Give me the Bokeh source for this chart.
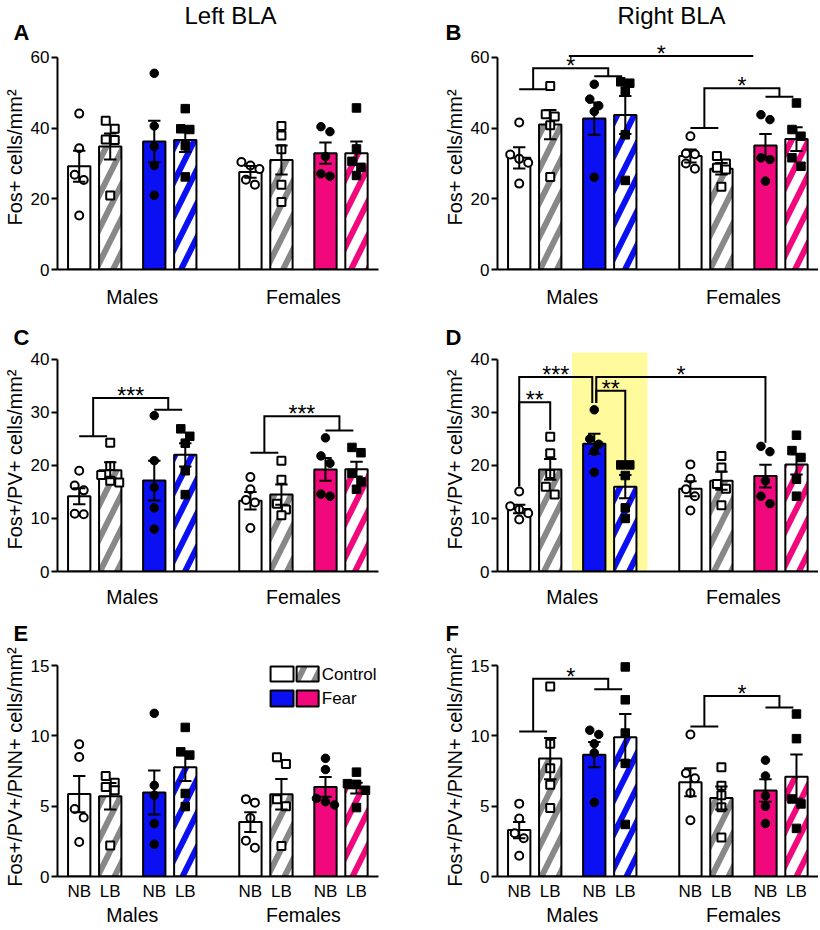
import numpy as np
from bokeh.plotting import figure
from bokeh.models import Range1d, FixedTicker, LinearAxis, Title
from bokeh.layouts import column, row
from bokeh.embed import file_html
from bokeh.resources import INLINE
from bokeh.core.properties import value

# ------------------------------------------------------------------ data
bar_labels = ["NB", "LB", "NB", "LB", "NB", "LB", "NB", "LB"]
sex_labels = ["Males", "Females"]
legend_labels = ["Control", "Fear"]
region_titles = ["Left BLA", "Right BLA"]
panel_letters = ["A", "B", "C", "D", "E", "F"]
y_labels = ["Fos+ cells/mm²", "Fos+/PV+ cells/mm²", "Fos+/PV+/PNN+ cells/mm²"]
y_ticks_fos = [0, 20, 40, 60]
y_ticks_pv = [0, 10, 20, 30, 40]
y_ticks_pnn = [0, 5, 10, 15]

# order of bars: Males NB-Control, LB-Control, NB-Fear, LB-Fear, Females (same)
a_mean = [29.2, 34.8, 36.2, 36.6, 27.6, 31.0, 32.9, 32.9]
a_sem = [4.4, 3.7, 5.85, 3.35, 1.65, 4.1, 3.0, 3.3]
a_points = [[44.1, 34.3, 26.8, 25.3, 15.3], [42.1, 39.8, 36.8, 36.6, 20.9],
            [55.5, 40.6, 34.8, 29.4, 21.0], [45.5, 39.8, 39.6, 35.0, 26.2],
            [30.4, 29.4, 28.4, 25.4, 24.0], [40.6, 37.9, 34.0, 24.0, 19.1],
            [40.4, 39.0, 32.0, 27.1, 26.4], [45.7, 34.1, 30.6, 28.9, 26.6]]

b_mean = [31.6, 41.0, 42.7, 43.7, 32.1, 28.5, 35.1, 36.9]
b_sem = [3.0, 4.15, 4.55, 5.4, 1.85, 1.65, 3.25, 3.35]
b_points = [[41.6, 32.5, 31.3, 30.2, 24.3], [51.9, 43.9, 43.3, 40.8, 26.2],
            [52.4, 48.2, 46.3, 44.7, 26.1], [53.1, 52.7, 50.5, 38.1, 25.2],
            [37.7, 32.8, 32.6, 30.0, 28.5], [32.1, 30.0, 28.8, 28.3, 23.4],
            [43.8, 42.4, 31.6, 31.1, 25.0], [47.1, 39.6, 37.7, 31.6, 29.2]]

c_mean = [14.2, 19.1, 17.15, 22.0, 13.35, 14.5, 19.25, 19.3]
c_sem = [1.5, 1.5, 3.75, 2.2, 1.65, 1.9, 2.15, 1.4]
c_points = [[19.0, 16.2, 15.3, 10.9, 10.8], [24.3, 19.9, 18.2, 17.1, 16.8],
            [29.4, 20.9, 15.9, 12.0, 8.0], [26.9, 25.5, 24.2, 19.0, 14.5],
            [17.8, 15.5, 13.5, 13.0, 8.2], [20.9, 17.3, 12.8, 11.7, 10.6],
            [25.2, 21.8, 20.4, 14.6, 14.2], [23.4, 22.4, 18.5, 16.9, 15.5]]

d_mean = [11.8, 19.25, 24.1, 16.0, 15.6, 17.1, 18.0, 20.2]
d_sem = [0.8, 1.95, 1.9, 2.2, 1.4, 1.7, 2.15, 1.9]
d_points = [[15.1, 12.3, 11.7, 11.0, 9.8], [25.4, 22.3, 18.4, 16.0, 14.5],
            [30.5, 25.0, 24.0, 22.7, 18.7], [20.1, 20.1, 18.1, 12.0, 10.0],
            [20.2, 17.5, 15.5, 14.2, 11.5], [21.8, 19.6, 16.5, 15.6, 12.5],
            [23.6, 22.6, 17.1, 14.2, 12.8], [25.7, 22.8, 21.5, 17.4, 14.2]]

e_mean = [5.86, 5.7, 5.97, 7.77, 3.87, 5.85, 6.37, 6.28]
e_sem = [1.29, 0.94, 1.57, 0.98, 0.7, 1.08, 0.7, 0.38]
e_points = [[9.4, 8.5, 4.8, 4.2, 2.45], [7.14, 6.67, 6.37, 6.13, 2.2],
            [11.6, 6.48, 5.78, 3.76, 2.29], [10.6, 8.86, 8.63, 5.9, 4.97],
            [5.5, 5.25, 4.15, 2.55, 2.05], [8.47, 8.0, 5.5, 5.0, 2.17],
            [8.4, 7.6, 5.55, 5.32, 5.09], [7.42, 6.6, 6.55, 6.13, 4.9]]

f_mean = [3.3, 8.38, 8.66, 9.9, 6.7, 5.58, 6.12, 7.1]
f_sem = [0.58, 1.47, 0.9, 1.65, 1.0, 0.82, 0.8, 1.57]
f_points = [[5.18, 4.12, 3.07, 2.72, 1.48], [13.5, 9.44, 7.69, 6.52, 4.87],
            [10.4, 10.1, 9.44, 8.79, 5.27], [14.9, 12.56, 10.2, 8.04, 3.7],
            [10.1, 7.34, 6.98, 5.93, 4.0], [7.76, 6.45, 5.77, 4.92, 2.77],
            [8.27, 7.15, 5.74, 4.99, 3.77], [11.55, 9.8, 5.51, 5.16, 3.42]]

# significance annotations
a_sig = []
b_sig = [("comb", (0, 1), (2, 3), 51.0, 56.9, 54.7, "*"),
         ("comb", (4, 5), (6, 7), 40.0, 51.3, 48.9, "*"),
         ("span", (2.3, 8.25), 60.4, "*")]
c_sig = [("comb", (0, 1), (2, 3), 25.5, 32.7, 30.5, "***"),
         ("comb", (4, 5), (6, 7), 22.4, 29.3, 26.6, "***")]
d_sig = [("pair", (0, 2), 36.7, (16.1, 31.8), (0, -2), "***"),
         ("pair", (0, 1), 31.9, (16.1, 26.7), (0, 0), "**"),
         ("pair", (2, 3), 34.1, (31.8, 20.8), (2, 0), "**"),
         ("pair", (2, 6), 36.7, (31.8, 24.3), (2, 0), "*")]
e_sig = []
f_sig = [("comb", (0, 1), (2, 3), 10.31, 14.06, 13.31, "*"),
         ("comb", (4, 5), (6, 7), 10.66, 12.84, 12.02, "*")]

# ------------------------------------------------------------------ style / layout
FONT = "Liberation Sans"
BLUE = "#0A10F2"
PINK = "#F0087C"
GRAY = "#888888"
YELLOW = "#FFFA9C"
XPOS = [0.7, 1.7, 3.12, 4.12, 6.22, 7.22, 8.64, 9.64]
X_END = 10.35
BAR_W = 0.72
CAP = 0.2
SUB_TRIM = 0.1
MALE_C = (XPOS[1] + XPOS[2]) / 2
FEMALE_C = (XPOS[5] + XPOS[6]) / 2
FIG_W = [410, 408]
BORDER_L = [57, 87]
BORDER_R = [32, 0]
DATA_H = [214, 214, 211]
EXTRA = [12, 12, 8]
TOP_B = [45, 37, 47]
BOT_B = [39, 37, 53]
SEX_STANDOFF = [16, 14]
LETTER_SO = [1, -5, 20]
LETTER_VA = ["bottom", "bottom", "top"]
LETTER_OFF = [-44, -52]
TITLE_OFF = [127, 120]
HATCH_SCALE = 34
HATCH_W = 6


def swarm(vals, px_y, diam):
    order = sorted(range(len(vals)), key=lambda i: -vals[i])
    clusters = []
    for i in order:
        if clusters and (vals[clusters[-1][0]] - vals[i]) * px_y < diam:
            clusters[-1].append(i)
        else:
            clusters.append([i])
    off = [0.0] * len(vals)
    for c in clusters:
        n = len(c)
        for r, i in enumerate(c):
            off[i] = (r - (n - 1) / 2) * diam
    return off


def style_axis(ax):
    ax.axis_line_width = 2
    ax.axis_line_color = "black"
    ax.major_tick_line_width = 2
    ax.major_tick_line_color = "black"
    ax.minor_tick_line_color = None
    ax.major_label_text_color = "black"
    ax.major_label_text_font = FONT
    ax.axis_label_text_color = "black"
    ax.axis_label_text_font = FONT
    ax.axis_label_text_font_style = "normal"


def make_panel(idx, col, rowi, mean, sem, pts, ytop, yticks, ylabel, sig,
               bottom_labels=False, title=None, legend=False, highlight=False):
    fw = FIG_W[col]
    dh = DATA_H[rowi]
    ex = EXTRA[rowi]
    fh = TOP_B[rowi] + dh + ex + BOT_B[rowi]
    frame_w = fw - BORDER_L[col] - BORDER_R[col]
    px_x = frame_w / X_END
    px_y = dh / ytop
    y_end = ytop + ex / px_y
    p = figure(width=fw, height=fh, x_range=Range1d(0, X_END), y_range=Range1d(0, y_end),
               min_border_left=BORDER_L[col], min_border_right=BORDER_R[col],
               min_border_top=TOP_B[rowi], min_border_bottom=BOT_B[rowi],
               output_backend="svg", toolbar_location=None, tools="", title=title)
    p.outline_line_color = None
    p.xgrid.visible = False
    p.ygrid.visible = False

    # column title (outermost) and panel letter (next to the plot area)
    if title is not None:
        p.title.align = "left"
        p.title.offset = TITLE_OFF[col]
        p.title.standoff = -22
        p.title.vertical_align = "bottom"
        p.title.text_font = FONT
        p.title.text_font_size = "24px"
        p.title.text_font_style = "normal"
        p.title.text_color = "black"
    p.add_layout(Title(text=panel_letters[idx], align="left", offset=LETTER_OFF[col],
                       standoff=LETTER_SO[rowi], vertical_align=LETTER_VA[rowi],
                       text_font=FONT, text_font_size="22px", text_font_style="bold",
                       text_color="black"), "above")

    # y axis
    ya = p.yaxis[0]
    style_axis(ya)
    ya.ticker = FixedTicker(ticks=yticks)
    ya.bounds = (0, ytop)
    ya.axis_label = ylabel
    ya.axis_label_text_font_size = "20px"
    ya.axis_label_standoff = 2
    ya.major_label_text_font_size = "17px"
    ya.major_label_standoff = 2
    ya.major_tick_out = 6
    ya.major_tick_in = 0

    # x axis
    xa = p.xaxis[0]
    style_axis(xa)
    xa.major_tick_line_color = None
    xa.major_tick_out = 0
    xa.major_tick_in = 0
    if not bottom_labels:
        xa.ticker = FixedTicker(ticks=[MALE_C, FEMALE_C])
        xa.major_label_overrides = {MALE_C: sex_labels[0], FEMALE_C: sex_labels[1]}
        xa.major_label_text_font_size = "19.5px"
        xa.major_label_standoff = SEX_STANDOFF[rowi]
    else:
        xa.ticker = FixedTicker(ticks=XPOS)
        xa.major_label_overrides = {x: t for x, t in zip(XPOS, bar_labels)}
        xa.major_label_text_font_size = "17px"
        xa.major_label_standoff = 5
        xa2 = LinearAxis(ticker=FixedTicker(ticks=[MALE_C, FEMALE_C]),
                         major_label_overrides={MALE_C: sex_labels[0], FEMALE_C: sex_labels[1]})
        style_axis(xa2)
        xa2.axis_line_color = None
        xa2.major_tick_line_color = None
        xa2.major_tick_out = 0
        xa2.major_tick_in = 0
        xa2.major_label_text_font_size = "19.5px"
        xa2.major_label_standoff = 0
        p.add_layout(xa2, "below")

    if highlight:
        hx0 = XPOS[2] - BAR_W / 2 - 11 / px_x
        hx1 = XPOS[3] + BAR_W / 2 + 11 / px_x
        p.quad(left=[hx0], right=[hx1], bottom=[0], top=[ytop + 7 / px_y],
               fill_color=YELLOW, line_color=None)

    # bars
    solid = [0, 2, 4, 6]
    hatched = [1, 3, 5, 7]
    solid_fill = ["white", BLUE, "white", PINK]
    hatch_col = [GRAY, BLUE, GRAY, PINK]
    p.vbar(x=[XPOS[i] for i in solid], top=[mean[i] for i in solid], width=BAR_W, bottom=0,
           fill_color=solid_fill, line_color="black", line_width=2)
    p.vbar(x=[XPOS[i] for i in hatched], top=[mean[i] for i in hatched], width=BAR_W, bottom=0,
           fill_color="white", line_color="black", line_width=2,
           hatch_pattern="/", hatch_color=hatch_col, hatch_scale=HATCH_SCALE, hatch_weight=HATCH_W)

    # individual points
    for i in range(8):
        offs = swarm(pts[i], px_y, 9.0)
        xs = [XPOS[i] + o / px_x for o in offs]
        marker = "circle" if i % 2 == 0 else "square"
        filled = i in (2, 3, 6, 7)
        if filled:
            p.scatter(xs, pts[i], marker=marker, size=8.5, fill_color="black",
                      line_color="black", line_width=1)
        else:
            p.scatter(xs, pts[i], marker=marker, size=8, fill_color="white",
                      line_color="black", line_width=2)

    # error bars
    lo = [m - s for m, s in zip(mean, sem)]
    hi = [m + s for m, s in zip(mean, sem)]
    p.segment(x0=XPOS, y0=lo, x1=XPOS, y1=hi, line_color="black", line_width=2)
    for yy in (lo, hi):
        p.segment(x0=[x - CAP for x in XPOS], y0=yy, x1=[x + CAP for x in XPOS], y1=yy,
                  line_color="black", line_width=2)

    # significance brackets
    lx, ly, sx, sy, st = [], [], [], [], []
    for b in sig:
        kind = b[0]
        if kind == "comb":
            _, (i, j), (k, l), yl, yt, yr, lab = b
            l0, l1 = XPOS[i], XPOS[j] - SUB_TRIM
            r0, r1 = XPOS[k], XPOS[l] - SUB_TRIM
            ml, mr = (l0 + l1) / 2, (r0 + r1) / 2
            lx += [[l0, l1], [ml, ml, mr, mr], [r0, r1]]
            ly += [[yl, yl], [yl, yt, yt, yr], [yr, yr]]
            sx.append((ml + mr) / 2); sy.append(yt); st.append(lab)
        elif kind == "pair":
            _, (i, j), yt, (bi, bj), (di, dj), lab = b
            x0 = XPOS[i] + di / px_x
            x1 = XPOS[j] + dj / px_x
            lx.append([x0, x0, x1, x1]); ly.append([bi, yt, yt, bj])
            sx.append((x0 + x1) / 2); sy.append(yt); st.append(lab)
        elif kind == "span":
            _, (x0, x1), yt, lab = b
            lx.append([x0, x1]); ly.append([yt, yt])
            sx.append((x0 + x1) / 2); sy.append(yt); st.append(lab)
    if lx:
        p.multi_line(xs=lx, ys=ly, line_color="black", line_width=2, line_join="miter")
        p.text(x=sx, y=sy, text=st, text_align="center", text_baseline="alphabetic",
               y_offset=-2, text_font=value(FONT), text_font_size=value("23px"),
               text_color="black")

    # legend
    if legend:
        bxs = [(6.87, 7.61), (7.71, 8.42)]
        rows_px = [(1, 16), (25, 41)]
        fills = [["white", "white"], [BLUE, PINK]]
        for r, (t_px, b_px) in enumerate(rows_px):
            top = ytop - t_px / px_y
            bot = ytop - b_px / px_y
            for c, (x0, x1) in enumerate(bxs):
                if r == 0 and c == 1:
                    p.quad(left=[x0], right=[x1], top=[top], bottom=[bot], fill_color="white",
                           line_color="black", line_width=2, hatch_pattern="/",
                           hatch_color=GRAY, hatch_scale=HATCH_SCALE, hatch_weight=HATCH_W)
                else:
                    p.quad(left=[x0], right=[x1], top=[top], bottom=[bot], fill_color=fills[r][c],
                           line_color="black", line_width=2)
        p.text(x=[8.52, 8.52], y=[ytop - 9 / px_y, ytop - 33 / px_y], text=legend_labels,
               text_align="left", text_baseline="middle", text_font=value(FONT),
               text_font_size=value("17px"), text_color="black")
    return p


pA = make_panel(0, 0, 0, a_mean, a_sem, a_points, 60, y_ticks_fos, y_labels[0], a_sig, title=region_titles[0])
pB = make_panel(1, 1, 0, b_mean, b_sem, b_points, 60, y_ticks_fos, y_labels[0], b_sig, title=region_titles[1])
pC = make_panel(2, 0, 1, c_mean, c_sem, c_points, 40, y_ticks_pv, y_labels[1], c_sig)
pD = make_panel(3, 1, 1, d_mean, d_sem, d_points, 40, y_ticks_pv, y_labels[1], d_sig, highlight=True)
pE = make_panel(4, 0, 2, e_mean, e_sem, e_points, 15, y_ticks_pnn, y_labels[2], e_sig,
                bottom_labels=True, legend=True)
pF = make_panel(5, 1, 2, f_mean, f_sem, f_points, 15, y_ticks_pnn, y_labels[2], f_sig,
                bottom_labels=True)

layout = column(row(pA, pB), row(pC, pD), row(pE, pF))
open("out.html", "w").write(file_html(layout, INLINE))
